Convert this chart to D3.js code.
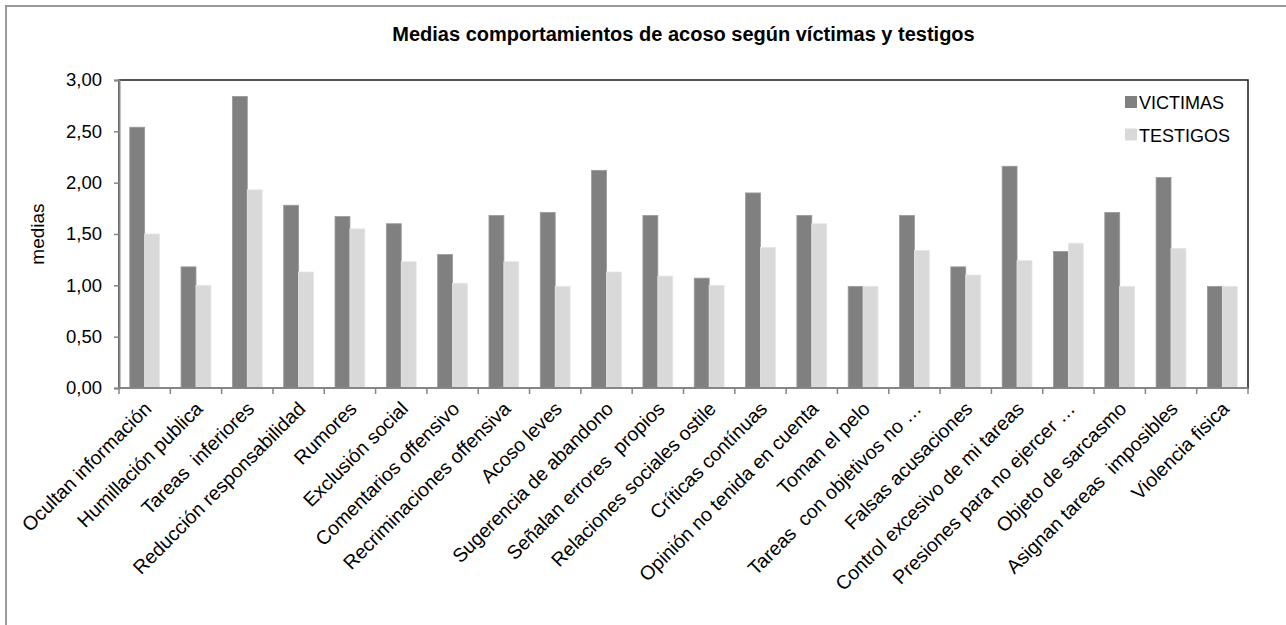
<!DOCTYPE html>
<html><head><meta charset="utf-8">
<script src="https://cdn.jsdelivr.net/npm/d3@7/dist/d3.min.js"></script>
<style>
body{margin:0;background:#fff;}
svg{display:block;font-family:"Liberation Sans",Arial,sans-serif;}
text{white-space:pre;}
</style></head><body>
<svg id="c" width="1286" height="625"></svg>
<script>
const categories = ["Ocultan información","Humillación publica","Tareas  inferiores","Reducción responsabilidad","Rumores","Exclusión social","Comentarios offensivo","Recriminaciones offensiva","Acoso leves","Sugerencia de abandono","Señalan errores  propios","Relaciones sociales ostile","Críticas contínuas","Opinión no tenida en cuenta","Toman el pelo","Tareas  con objetivos no …","Falsas acusaciones","Control excesivo de mi tareas","Presiones para no ejercer …","Objeto de sarcasmo","Asignan tareas  imposibles","Violencia fisica"];
const victimas = [2.54,1.18,2.84,1.78,1.67,1.60,1.30,1.68,1.71,2.12,1.68,1.07,1.90,1.68,0.99,1.68,1.18,2.16,1.33,1.71,2.05,0.99];
const testigos = [1.50,1.00,1.93,1.13,1.55,1.23,1.02,1.23,0.99,1.13,1.09,1.00,1.37,1.60,0.99,1.34,1.10,1.24,1.41,0.99,1.36,0.99];
const seriesNames = ["VICTIMAS","TESTIGOS"];
const seriesColors = ["#808080","#d9d9d9"];
const yTicks = [0,0.5,1,1.5,2,2.5,3];
const title = "Medias comportamientos de acoso según víctimas y testigos";
const yTitle = "medias";

const svg = d3.select("#c");
const L=119, R=1248, T=80, B=388;

svg.append("rect").attr("x",6).attr("y",6).attr("width",1400).attr("height",700)
  .attr("fill","#fff").attr("stroke","#9a9a9a").attr("stroke-width",2);

const x0 = d3.scaleBand().domain(categories).range([L,R]).padding(0);
const x1 = d3.scaleBand().domain(seriesNames).range([0,x0.bandwidth()]).paddingOuter(0.72).paddingInner(0);
const y = d3.scaleLinear().domain([0,3]).range([B,T]);

svg.append("rect").attr("x",L).attr("y",T).attr("width",R-L).attr("height",B-T)
  .attr("fill","none").attr("stroke","#1a1a1a").attr("stroke-width",1.5);

const data = categories.map((c,i)=>({c, v:[victimas[i],testigos[i]]}));
const g = svg.append("g");
g.selectAll("g.cat").data(data).join("g").attr("class","cat")
  .attr("transform",d=>`translate(${x0(d.c)},0)`)
  .selectAll("rect").data(d=>d.v.map((v,j)=>({v,s:seriesNames[j],j})))
  .join("rect")
  .attr("x",d=>x1(d.s)).attr("width",x1.bandwidth())
  .attr("y",d=>y(d.v)).attr("height",d=>B-y(d.v))
  .attr("fill",d=>seriesColors[d.j])
  .attr("stroke",d=>d.j===0?"#9a9a9a":"#e6e6e6").attr("stroke-width",0.8);

const ya = svg.append("g").attr("transform",`translate(${L},0)`)
  .call(d3.axisLeft(y).tickValues(yTicks).tickSize(5).tickPadding(12)
    .tickFormat(d=>d3.format(".2f")(d).replace(".",",")));
ya.select(".domain").attr("stroke","#868686").attr("stroke-width",2);
ya.selectAll(".tick line").attr("stroke","#868686").attr("stroke-width",1.5);
ya.selectAll(".tick text").attr("font-size",18.5).attr("fill","#000").attr("font-family","Liberation Sans, Arial, sans-serif");

const xa = svg.append("g").attr("transform",`translate(0,${B})`);
xa.append("line").attr("x1",L).attr("x2",R).attr("stroke","#868686").attr("stroke-width",2);
const bounds = categories.map(c=>x0(c)).concat([R]);
xa.selectAll("line.tk").data(bounds).join("line").attr("class","tk")
  .attr("x1",d=>d).attr("x2",d=>d).attr("y1",0).attr("y2",6)
  .attr("stroke","#868686").attr("stroke-width",1.5);
xa.selectAll("text").data(categories).join("text")
  .attr("transform",d=>`translate(${x0(d)+x0.bandwidth()/2+8},${22}) rotate(-45)`)
  .attr("text-anchor","end").attr("font-size",19.5).attr("fill","#000")
  .text(d=>d);

svg.append("text").attr("x",(L+R)/2).attr("y",41).attr("text-anchor","middle")
  .attr("font-size",20).attr("font-weight","bold").text(title);
svg.append("text").attr("transform",`translate(44,${(T+B)/2}) rotate(-90)`)
  .attr("text-anchor","middle").attr("font-size",19).text(yTitle);

const lg = svg.append("g");
seriesNames.forEach((s,i)=>{
  lg.append("rect").attr("x",1125).attr("y",96+i*32.5).attr("width",12).attr("height",12).attr("fill",seriesColors[i]);
  lg.append("text").attr("x",1139).attr("y",109+i*32.5).attr("font-size",18).text(s);
});
</script></body></html>
